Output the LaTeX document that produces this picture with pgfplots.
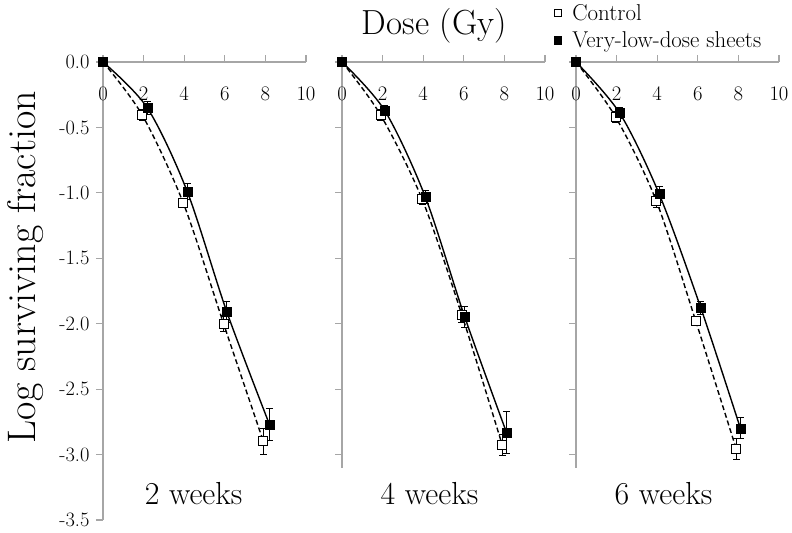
\documentclass[border=0pt]{standalone}
\usepackage{pgfplots}
\usepackage{pgfplotstable}
\pgfplotsset{compat=1.18}
% panel 1 (2 weeks)
\pgfplotstableread{
x y e
0 0 0
1.93 -0.405 0.04
3.96 -1.08 0.03
5.94 -2.00 0.06
7.90 -2.90 0.10
}\ctrlA
\pgfplotstableread{
x y e
0 0 0
2.18 -0.35 0.05
4.15 -0.99 0.06
6.10 -1.91 0.08
8.20 -2.77 0.12
}\vldA
% panel 2 (4 weeks)
\pgfplotstableread{
x y e
0 0 0
1.90 -0.405 0.04
3.95 -1.05 0.04
5.90 -1.93 0.06
7.90 -2.93 0.08
}\ctrlB
\pgfplotstableread{
x y e
0 0 0
2.10 -0.37 0.04
4.10 -1.03 0.05
6.05 -1.95 0.08
8.10 -2.83 0.16
}\vldB
% panel 3 (6 weeks)
\pgfplotstableread{
x y e
0 0 0
1.95 -0.42 0.04
3.95 -1.06 0.05
5.90 -1.98 0.03
7.90 -2.96 0.08
}\ctrlC
\pgfplotstableread{
x y e
0 0 0
2.15 -0.39 0.04
4.10 -1.01 0.06
6.15 -1.88 0.05
8.10 -2.80 0.08
}\vldC
\definecolor{axgray}{HTML}{A6A6A6}
\pgfplotsset{
  panel/.style={
    scale only axis, width=203bp, height=458bp,
    xmin=0, xmax=10, ymin=-3.5, ymax=0,
    clip=false,
    axis x line=middle, axis y line=left,
    hide obscured x ticks=false, hide obscured y ticks=false,
    x axis line style={-}, y axis line style={-},
    every inner x axis line/.append style={-},
    every outer y axis line/.append style={-},
    axis line style={draw=axgray, line width=1.5bp},
    xtick={0,2,4,6,8,10},
    major tick length=7bp,
    x tick style={draw=axgray, line width=1.2bp, yshift=3.5bp},
    y tick style={draw=axgray, line width=1.2bp},
    ytick align=outside,
    tick label style={font=\fontsize{20.5}{24}\selectfont},
    x tick label style={yshift=-18bp},
    y tick label style={xshift=-3bp},
  },
  ctrlline/.style={black, line width=1.4bp, dash pattern=on 5bp off 3bp, smooth, no marks},
  vldline/.style={black, line width=1.4bp, smooth, no marks},
  ctrlmark/.style={only marks, mark=square*, mark size=4.5bp,
    mark options={fill=white, draw=black, line width=1bp},
    error bars/.cd, y dir=both, y explicit,
    error bar style={black, line width=1bp}, error mark options={rotate=90, mark size=3.5bp, black, line width=1bp},
    /pgfplots/.cd},
  vldmark/.style={only marks, mark=square*, mark size=4.5bp,
    mark options={fill=black, draw=black},
    error bars/.cd, y dir=both, y explicit,
    error bar style={black, line width=1bp}, error mark options={rotate=90, mark size=3.5bp, black, line width=1bp},
    /pgfplots/.cd},
}
\begin{document}
\begin{tikzpicture}
% ---------- panel 1 ----------
\begin{axis}[panel, at={(103bp,13bp)}, anchor=south west,
  ytick={-3.5,-3,-2.5,-2,-1.5,-1,-0.5,0},
  yticklabels={-3.5,-3.0,-2.5,-2.0,-1.5,-1.0,-0.5,0.0},
  ylabel={Log surviving fraction},
  ylabel style={at={(rel axis cs:-0.38,0.552)}, anchor=center, rotate=0, font=\fontsize{40}{46}\selectfont},
]
\addplot[ctrlline] table[x=x,y=y] {\ctrlA};
\addplot[vldline] table[x=x,y=y] {\vldA};
\addplot[ctrlmark] table[x=x,y=y,y error=e] {\ctrlA};
\addplot[vldmark] table[x=x,y=y,y error=e] {\vldA};
\node[anchor=base, font=\fontsize{32}{38}\selectfont] at (axis cs:4.46,-3.384) {2 weeks};
\end{axis}
% ---------- panel 2 ----------
\begin{axis}[panel, at={(342bp,13bp)}, anchor=south west,
  ytick={-3,-2.5,-2,-1.5,-1,-0.5,0}, yticklabels={},
  y axis line style={shorten <=52bp},
  xlabel={Dose (Gy)},
  xlabel style={at={(rel axis cs:0.455,1.0)}, anchor=base, yshift=27bp, font=\fontsize{35}{40}\selectfont},
]
\addplot[ctrlline] table[x=x,y=y] {\ctrlB};
\addplot[vldline] table[x=x,y=y] {\vldB};
\addplot[ctrlmark] table[x=x,y=y,y error=e] {\ctrlB};
\addplot[vldmark] table[x=x,y=y,y error=e] {\vldB};
\node[anchor=base, font=\fontsize{32}{38}\selectfont] at (axis cs:4.31,-3.384) {4 weeks};
\end{axis}
% ---------- panel 3 ----------
\begin{axis}[panel, at={(576bp,13bp)}, anchor=south west,
  ytick={-3,-2.5,-2,-1.5,-1,-0.5,0}, yticklabels={},
  y axis line style={shorten <=52bp},
  legend style={at={(rel axis cs:-0.125,1.13)}, anchor=north west, draw=none, fill=none,
    font=\fontsize{23}{27}\selectfont, row sep=7bp, inner sep=0pt,
    nodes={inner sep=1.5bp}},
  legend cell align=left,
  legend image code/.code={\path[draw=none, fill=none] (0bp,-3bp) rectangle (20bp,3bp); \draw[#1] plot coordinates {(7bp,0bp)};},
]
\addplot[forget plot, ctrlline] table[x=x,y=y] {\ctrlC};
\addplot[forget plot, vldline] table[x=x,y=y] {\vldC};
\addplot[forget plot, ctrlmark] table[x=x,y=y,y error=e] {\ctrlC};
\addplot[forget plot, vldmark] table[x=x,y=y,y error=e] {\vldC};
\addlegendimage{only marks, mark=square*, mark size=3.3bp, mark options={fill=white, draw=black, line width=0.6bp}}
\addlegendentry{Control}
\addlegendimage{only marks, mark=square*, mark size=3.8bp, mark options={fill=black}}
\addlegendentry{Very-low-dose sheets}
\node[anchor=base, font=\fontsize{32}{38}\selectfont] at (axis cs:4.31,-3.384) {6 weeks};
\end{axis}
\pgfresetboundingbox
\useasboundingbox (0,0) rectangle (792bp,533bp);
\end{tikzpicture}
\end{document}
